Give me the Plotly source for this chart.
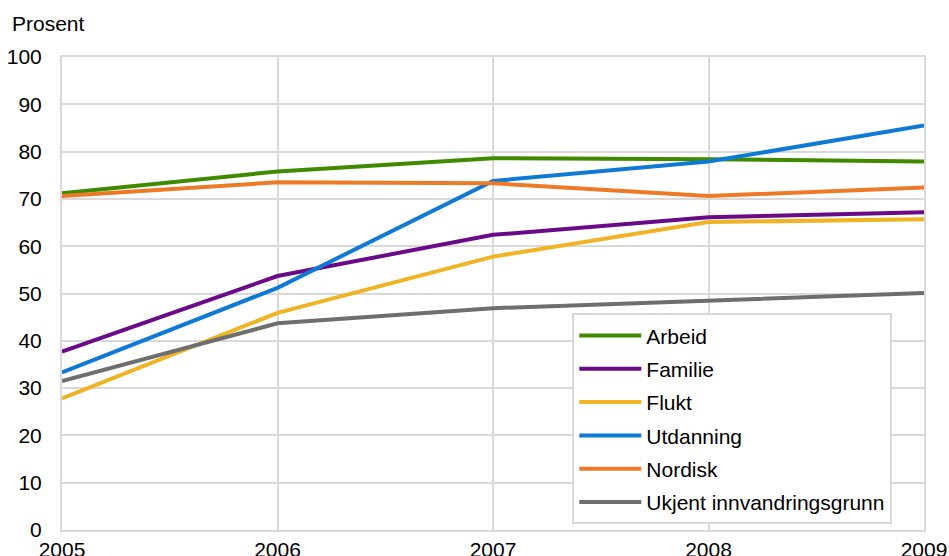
import plotly.graph_objects as go

years = [2005, 2006, 2007, 2008, 2009]

arbeid = [71.2, 75.8, 78.6, 78.4, 77.9]
familie = [37.7, 53.7, 62.4, 66.1, 67.2]
flukt = [27.8, 45.9, 57.8, 65.1, 65.7]
utdanning = [33.3, 51.2, 73.8, 77.9, 85.5]
nordisk = [70.6, 73.5, 73.3, 70.6, 72.4]
ukjent = [31.5, 43.7, 46.9, 48.4, 50.1]

series = [
    ('Arbeid', arbeid, '#408a00'),
    ('Familie', familie, '#6a0a87'),
    ('Flukt', flukt, '#f0b323'),
    ('Utdanning', utdanning, '#0f7ad6'),
    ('Nordisk', nordisk, '#ed7a27'),
    ('Ukjent innvandringsgrunn', ukjent, '#6e6e6e'),
]

font = 'Liberation Sans, Arial, sans-serif'
grid = '#d9d9d9'

fig = go.Figure()
for name, vals, col in series:
    fig.add_trace(go.Scatter(x=years, y=vals, name=name, mode='lines',
                             legendgroup=name,
                             line=dict(color=col, width=4)))

fig.update_layout(
    width=949, height=556,
    margin=dict(l=62, r=25, t=57, b=26),
    paper_bgcolor='white', plot_bgcolor='white',
    font=dict(family=font, size=21, color='black'),
    xaxis=dict(
        range=[2005, 2009], tickvals=years, ticktext=[str(y) for y in years],
        showgrid=True, gridcolor=grid, gridwidth=2,
        zeroline=False, showline=True, linecolor=grid, linewidth=2, mirror=True,
        ticks='', automargin=False,
    ),
    yaxis=dict(
        range=[0, 100], dtick=10,
        showgrid=True, gridcolor=grid, gridwidth=2,
        zeroline=False, showline=True, linecolor=grid, linewidth=2, mirror=True,
        ticks='outside', ticklen=14, tickcolor='rgba(0,0,0,0)',
        automargin=False,
    ),
    legend=dict(
        x=0.592, y=0.458, xanchor='left', yanchor='top',
        bordercolor=grid, borderwidth=2, bgcolor='white',
        tracegroupgap=3, itemwidth=62,
        font=dict(family=font, size=21),
    ),
    annotations=[dict(
        text='Prosent', xref='paper', yref='paper', x=-0.06, y=1.07,
        xanchor='left', yanchor='middle', showarrow=False,
        font=dict(family=font, size=21),
    )],
)

# drop the default 8px body margin so the figure fills the window
fig.write_html("out.html", config={'displayModeBar': False},
               post_script="document.body.style.margin='0';document.body.style.overflow='hidden';")
